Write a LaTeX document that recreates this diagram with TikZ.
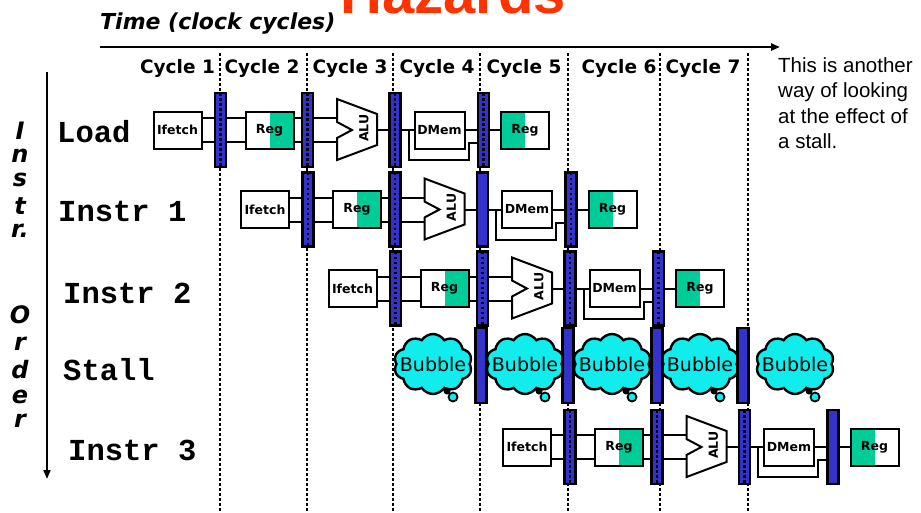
\documentclass[tikz,border=0pt]{standalone}
\usepackage{fontspec}
\setmainfont{DejaVu Sans}[ItalicFont={DejaVu Sans Oblique}, BoldFont={DejaVu Sans Bold}, BoldItalicFont={DejaVu Sans Bold Oblique}]
\newfontfamily\monofnt{Liberation Mono}
\newfontfamily\notefnt{Liberation Sans}
\usepackage{tikz}
\usetikzlibrary{positioning,arrows.meta,shapes.symbols}

\definecolor{latchblue}{RGB}{51,51,204}
\definecolor{regfill}{RGB}{0,204,153}
\definecolor{bubblecyan}{RGB}{17,236,236}
\definecolor{titlered}{RGB}{255,51,0}

\newcommand{\boxfnt}{\bfseries\fontsize{12.5}{13}\selectfont}

% one instruction going through the five stages
% #1 name prefix, #2 x shift, #3 row y, #4/#5 style of the 3rd/4th latch
\newcommand{\instrrow}[5]{%
  \begin{scope}[shift={(#2,#3)}]
    \node[stage] (#1if) at (177.5,0) {Ifetch};
    \node[latchd] (#1l1) at (220.5,0) {};
    \node[stage, regrd] (#1id) at (269.5,0) {Reg};
    \node[latchd] (#1l2) at (307.5,0) {};
    \draw[unit] (337,-31) -- (377,-16) -- (377,15) -- (337,30) -- (337,8) -- (352,0) -- (337,-8) -- cycle;
    \node[rotate=90, font=\boxfnt, inner sep=0pt] (#1alu) at (364,-2) {ALU};
    \coordinate (#1aluin) at (337,0);
    \coordinate (#1aluout) at (377,0);
    \node[#4] (#1l3) at (395,0) {};
    \node[stage, minimum width=50pt] (#1mem) at (439.5,0) {DMem};
    \node[#5] (#1l4) at (483.5,0) {};
    \node[stage, regwr] (#1wb) at (525,0) {Reg};
    \foreach \dy in {-12,12} {
      \draw[wire] ([yshift=\dy pt]#1if.east) -- ([yshift=\dy pt]#1l1.west);
      \draw[wire] ([yshift=\dy pt]#1l1.east) -- ([yshift=\dy pt]#1id.west);
      \draw[wire] ([yshift=\dy pt]#1id.east) -- ([yshift=\dy pt]#1l2.west);
      \draw[wire] ([yshift=\dy pt]#1l2.east) -- ([yshift=\dy pt]#1aluin);
    }
    \draw[wire] (#1aluout) -- (#1l3.west);
    \draw[wire] (#1l3.east) -- (#1mem.west);
    \draw[wire] (#1mem.east) -- (#1l4.west);
    \draw[wire] (#1l4.east) -- (#1wb.west);
    \draw[wire] ([xshift=7pt]#1l3.east) -- ++(0,30) -| ([xshift=-8pt,yshift=-13pt]#1l4.west) -- ([yshift=-13pt]#1l4.west);
  \end{scope}}

\begin{document}
\begin{tikzpicture}[x=1pt, y=-1pt,
  stage/.style={draw, fill=white, line width=2pt, minimum width=48pt, minimum height=37pt, inner sep=0pt, font=\boxfnt},
  regrd/.style={path picture={\fill[regfill] (path picture bounding box.north) rectangle (path picture bounding box.south east);}, postaction={draw, line width=2pt}},
  regwr/.style={path picture={\fill[regfill] (path picture bounding box.north west) rectangle (path picture bounding box.south);}, postaction={draw, line width=2pt}},
  latch/.style={draw, fill=latchblue, line width=2.2pt, minimum width=11pt, minimum height=74pt, inner sep=0pt},
  cycdots/.style={line width=2.5pt, dash pattern=on 2.5pt off 2.5pt},
  latchd/.style={latch, path picture={\draw[cycdots] (path picture bounding box.north) -- (path picture bounding box.south);}, postaction={draw, line width=2.2pt}},
  unit/.style={draw, fill=white, line width=2pt, line join=miter},
  wire/.style={line width=2pt},
  axis/.style={line width=2.2pt, -{Triangle[length=9pt, width=7pt]}},
  cyclab/.style={font=\bfseries\fontsize{18.5}{20}\selectfont, inner sep=0pt},
  ordlab/.style={font=\bfseries\itshape\fontsize{24}{26}\selectfont, inner sep=0pt},
  rowlab/.style={anchor=west, inner sep=0pt, font=\monofnt\bfseries\fontsize{30.5}{32}\selectfont},
  bubble/.style={cloud, cloud puffs=10, cloud puff arc=115, aspect=1.35, draw, line width=2.4pt, fill=bubblecyan,
    minimum width=78pt, minimum height=60pt, inner sep=0pt,
    label={[font=\fontsize{19}{20}\selectfont, inner sep=0pt]center:Bubble}}]
\useasboundingbox (0,0) rectangle (921,512);
\clip (0,0) rectangle (921,512);

% title and time axis
\node[anchor=base, inner sep=0pt, text=titlered, font=\notefnt\bfseries\fontsize{58}{60}\selectfont] (title) at (453,13) {Hazards};
\node[anchor=base west, inner sep=0pt, font=\bfseries\itshape\fontsize{22}{24}\selectfont] (time) at (100,29) {Time (clock cycles)};
\coordinate (timeL) at (100,47);
\coordinate (timeR) at (780,47);
\draw[axis] (timeL) -- (timeR);

% cycle boundaries
\foreach \cx in {220,307,393,480,568,660,748}
  \draw[cycdots] (\cx,53) -- (\cx,512);
\foreach \cx [count=\k] in {177.5,262,350,437,524,619,703}
  \node[cyclab] (cyc\k) at (\cx,68) {Cycle \k};

% instruction order
\coordinate (ordtop) at (47,72);
\coordinate (ordbot) at (47,479);
\draw[axis, line width=2pt] (ordtop) -- (ordbot);
\foreach \ly/\lt [count=\k] in {131/I,156/n,180/s,206/t,231/r.,315/O,344/r,370/d,397/e,421/r}
  \node[ordlab] (ord\k) at (20,\ly) {\lt};

\node[rowlab] (lbl1) at (57,132) {Load};
\node[rowlab] (lbl2) at (58,211) {Instr 1};
\node[rowlab] (lbl3) at (63,293) {Instr 2};
\node[rowlab] (lbl4) at (63,370) {Stall};
\node[rowlab] (lbl5) at (68,450) {Instr 3};

% pipelines
\instrrow{a}{0}{130}{latchd}{latchd}
\instrrow{b}{87.5}{209.5}{latch}{latchd}
\instrrow{c}{175}{288.5}{latchd}{latchd}
\instrrow{d}{349.5}{447}{latchd}{latch}

% the stall
\foreach \bx [count=\k] in {433,525,612,700,795} {
  \node[bubble] (bub\k) at (\bx,364) {};
  \fill ([xshift=14pt,yshift=-27pt]bub\k.center) circle (3.5pt);
  \draw[line width=1.8pt, fill=bubblecyan] ([xshift=20pt,yshift=-33pt]bub\k.center) circle (4.5pt);
}
\foreach \lx [count=\k] in {481,568,657,743}
  \node[latch, minimum height=75pt] (sl\k) at (\lx,365.5) {};

\node[anchor=north west, align=left, inner sep=0pt, font=\notefnt\fontsize{20.5}{25.5}\selectfont] (note) at (778,57)
  {This is another\\way of looking\\at the effect of\\a stall.};
\end{tikzpicture}
\end{document}
